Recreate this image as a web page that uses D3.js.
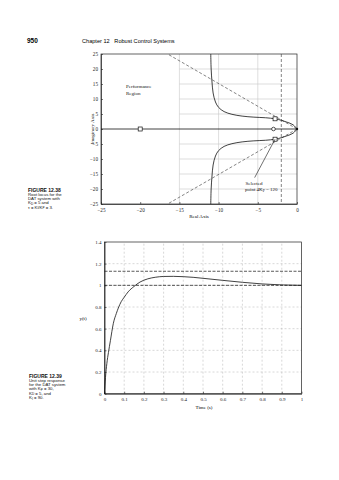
<!DOCTYPE html>
<html><head><meta charset="utf-8">
<script src="https://cdn.jsdelivr.net/npm/d3@7"></script>
<style>body{margin:0;background:#fff}svg{display:block}</style>
</head><body><svg id="c" width="339" height="480"></svg>
<script>
// ---------- data: root locus (Fig 12.38) ----------
const rlXTicks = [-25, -20, -15, -10, -5, 0];
const rlYTicks = [25, 20, 15, 10, 5, 0, -5, -10, -15, -20, -25];
const rlGridX = [-15, -10, -5];
const rlGridY = [20, 15, 10, 5, -5, -10, -15, -20];
// upper complex branch (real, imag), lower is its mirror
const branchRe = [0, -0.5, -1.3, -2.0, -2.8, -4.0, -5.5, -7.0, -8.3, -9.3, -10.0, -10.4, -10.7, -10.85, -10.95, -11.0];
const branchIm = [0, 1.4, 2.3, 2.9, 3.4, 3.75, 3.95, 4.3, 4.9, 5.8, 7.2, 9.0, 12.0, 16.0, 20.0, 25.0];
const realAxisSegment = [-25, 0];
const openLoopPole = [0];
const zeroReal = [-20];
const closedLoopReal = [-3];
const selectedRe = [-2.8, -2.8];
const selectedIm = [3.4, -3.4];
const dampingLineEnd = [-16.5, 25];
const settlingLine = [-2];

// ---------- data: step response (Fig 12.39) ----------
const stepXTicks = [0, 0.1, 0.2, 0.3, 0.4, 0.5, 0.6, 0.7, 0.8, 0.9, 1];
const stepYTicks = [0, 0.2, 0.4, 0.6, 0.8, 1, 1.2, 1.4];
const stepT = [0, 0.005, 0.012, 0.02, 0.03, 0.045, 0.06, 0.07, 0.085, 0.1, 0.12, 0.15, 0.18, 0.22, 0.26, 0.3, 0.35, 0.4, 0.45, 0.5, 0.6, 0.7, 0.8, 0.9, 1.0];
const stepY = [0, 0.15, 0.28, 0.38, 0.49, 0.65, 0.74, 0.79, 0.85, 0.89, 0.94, 0.99, 1.03, 1.06, 1.075, 1.082, 1.083, 1.08, 1.074, 1.065, 1.046, 1.028, 1.013, 1.004, 1.0];
const overshootLevel = [1.13];
const finalLevel = [1.0];

const svg = d3.select("#c");
const serif = "Liberation Serif, Times New Roman, serif";
const sans = "Liberation Sans, Arial, sans-serif";

// ---------- page header ----------
svg.append("text").attr("x", 27).attr("y", 43).attr("font-family", sans).attr("font-weight", "bold")
  .attr("font-size", 6.5).text("950");
svg.append("text").attr("x", 82).attr("y", 43).attr("font-family", sans)
  .attr("font-size", 5.6).attr("xml:space", "preserve").text("Chapter 12   Robust Control Systems");

// ---------- captions ----------
function caption(x, y, lines) {
  const g = svg.append("g").attr("font-family", sans).attr("font-size", 4.3).attr("fill", "#111");
  lines.forEach((ln, i) => {
    const t = g.append("text").attr("x", x).attr("y", y + i * 4.3);
    if (i === 0) t.attr("font-weight", "bold").attr("font-size", 5);
    let shifted = false;
    ln.forEach(part => {
      if (typeof part === "string") {
        const s = t.append("tspan").text(part);
        if (shifted) { s.attr("dy", -0.5); shifted = false; }
      } else {
        t.append("tspan").attr("dy", 0.5).attr("font-size", 3.1).text(part.sub);
        shifted = true;
      }
    });
  });
}
caption(28, 191.5, [["FIGURE 12.38"], ["Root locus for the"], ["DAT system with"], ["K", {sub: "D"}, " = 5 and"], ["\u03C4 = K", {sub: "I"}, "/K", {sub: "P"}, " = 3."]]);
caption(29, 377.5, [["FIGURE 12.39"], ["Unit step response"], ["for the DAT system"], ["with K", {sub: "P"}, " = 30,"], ["K", {sub: "D"}, " = 5, and"], ["K", {sub: "I"}, " = 90."]]);

// ---------- root locus ----------
const rx = d3.scaleLinear().domain([-25, 0]).range([101, 297]);
const ry = d3.scaleLinear().domain([-25, 25]).range([204, 54]);
const rl = svg.append("g");

// light grid
rlGridX.forEach(v => rl.append("line").attr("x1", rx(v)).attr("x2", rx(v)).attr("y1", ry(25)).attr("y2", ry(-25))
  .attr("stroke", "#c8c8c8").attr("stroke-width", 0.6));
rlGridY.forEach(v => rl.append("line").attr("x1", rx(-15)).attr("x2", rx(0)).attr("y1", ry(v)).attr("y2", ry(v))
  .attr("stroke", "#c8c8c8").attr("stroke-width", 0.6));

// frame
rl.append("rect").attr("x", rx(-25)).attr("y", ry(25)).attr("width", rx(0) - rx(-25)).attr("height", ry(-25) - ry(25))
  .attr("fill", "none").attr("stroke", "#222").attr("stroke-width", 0.7);

// axes
const rlLeft = d3.axisLeft(ry).tickValues(rlYTicks).tickSizeInner(-2).tickSizeOuter(0).tickPadding(3)
  .tickFormat(d => d < 0 ? "\u2212" + Math.abs(d) : d);
const rlBottom = d3.axisBottom(rx).tickValues(rlXTicks).tickSizeInner(-2).tickSizeOuter(0).tickPadding(4)
  .tickFormat(d => d < 0 ? "\u2212" + Math.abs(d) : d);
const ga = rl.append("g").attr("transform", `translate(${rx(-25)},0)`).call(rlLeft);
const gb = rl.append("g").attr("transform", `translate(0,${ry(-25)})`).call(rlBottom);
[ga, gb].forEach(g => {
  g.select(".domain").attr("stroke", "#222").attr("stroke-width", 0.7);
  g.selectAll(".tick line").attr("stroke", "#222").attr("stroke-width", 0.6);
  g.selectAll(".tick text").attr("font-family", serif).attr("font-size", 5.2).attr("fill", "#222");
});

// dashed performance lines
rl.append("line").attr("x1", rx(0)).attr("y1", ry(0)).attr("x2", rx(dampingLineEnd[0])).attr("y2", ry(dampingLineEnd[1]))
  .attr("stroke", "#333").attr("stroke-width", 0.6).attr("stroke-dasharray", "3,2");
rl.append("line").attr("x1", rx(0)).attr("y1", ry(0)).attr("x2", rx(dampingLineEnd[0])).attr("y2", ry(-dampingLineEnd[1]))
  .attr("stroke", "#333").attr("stroke-width", 0.6).attr("stroke-dasharray", "3,2");
settlingLine.forEach(v => rl.append("line").attr("x1", rx(v)).attr("x2", rx(v)).attr("y1", ry(25)).attr("y2", ry(-25))
  .attr("stroke", "#333").attr("stroke-width", 0.6).attr("stroke-dasharray", "3,2"));

// real axis locus
rl.append("line").attr("x1", rx(realAxisSegment[0])).attr("x2", rx(realAxisSegment[1])).attr("y1", ry(0)).attr("y2", ry(0))
  .attr("stroke", "#111").attr("stroke-width", 0.8);

// complex branches
const upper = branchRe.map((r, i) => [r, branchIm[i]]);
const lower = branchRe.map((r, i) => [r, -branchIm[i]]);
const locLine = d3.line().x(d => rx(d[0])).y(d => ry(d[1])).curve(d3.curveCatmullRom.alpha(0.5));
[upper, lower].forEach(b => rl.append("path").attr("d", locLine(b)).attr("fill", "none")
  .attr("stroke", "#111").attr("stroke-width", 0.8));

// markers
zeroReal.forEach(v => rl.append("rect").attr("x", rx(v) - 2).attr("y", ry(0) - 2).attr("width", 4).attr("height", 4)
  .attr("fill", "#fff").attr("stroke", "#111").attr("stroke-width", 0.7));
closedLoopReal.forEach(v => rl.append("circle").attr("cx", rx(v)).attr("cy", ry(0)).attr("r", 1.8)
  .attr("fill", "#fff").attr("stroke", "#111").attr("stroke-width", 0.7));
selectedRe.forEach((v, i) => rl.append("rect").attr("x", rx(v) - 2).attr("y", ry(selectedIm[i]) - 2).attr("width", 4).attr("height", 4)
  .attr("fill", "#fff").attr("stroke", "#111").attr("stroke-width", 0.7));
openLoopPole.forEach(v => rl.append("circle").attr("cx", rx(v)).attr("cy", ry(0)).attr("r", 1.2).attr("fill", "#111"));

// annotation
rl.append("line").attr("x1", rx(-5.4)).attr("y1", ry(-16.2)).attr("x2", rx(selectedRe[1])).attr("y2", ry(selectedIm[1]))
  .attr("stroke", "#111").attr("stroke-width", 0.6);
const ann = rl.append("g").attr("font-family", serif).attr("font-size", 5).attr("fill", "#111");
ann.append("text").attr("x", 245.5).attr("y", 185).text("Selected");
const t2 = ann.append("text").attr("x", 245).attr("y", 191.3);
t2.append("tspan").text("point 4K");
t2.append("tspan").attr("dy", 1).attr("font-size", 3.6).text("P");
t2.append("tspan").attr("dy", -1).text(" = 120");
ann.append("text").attr("x", 126).attr("y", 88).text("Performance");
ann.append("text").attr("x", 126).attr("y", 94.5).text("Region");

rl.append("text").attr("x", 199).attr("y", 218).attr("text-anchor", "middle").attr("font-family", serif)
  .attr("font-size", 5).text("Real Axis");
rl.append("text").attr("transform", `translate(93.5,${ry(0)}) rotate(-90)`).attr("text-anchor", "middle")
  .attr("font-family", serif).attr("font-size", 5).text("Imaginary Axis");

// ---------- step response ----------
const sx = d3.scaleLinear().domain([0, 1]).range([104.5, 301.5]);
const sy = d3.scaleLinear().domain([0, 1.4]).range([393.7, 242]);
const st = svg.append("g");

// dotted grid
stepXTicks.slice(1, -1).forEach(v => st.append("line").attr("x1", sx(v)).attr("x2", sx(v)).attr("y1", sy(0)).attr("y2", sy(1.4))
  .attr("stroke", "#b0b0b0").attr("stroke-width", 0.5).attr("stroke-dasharray", "2,2"));
stepYTicks.slice(1, -1).forEach(v => st.append("line").attr("x1", sx(0)).attr("x2", sx(1)).attr("y1", sy(v)).attr("y2", sy(v))
  .attr("stroke", "#b0b0b0").attr("stroke-width", 0.5).attr("stroke-dasharray", "2,2"));

st.append("rect").attr("x", sx(0)).attr("y", sy(1.4)).attr("width", sx(1) - sx(0)).attr("height", sy(0) - sy(1.4))
  .attr("fill", "none").attr("stroke", "#222").attr("stroke-width", 0.7);

const sLeft = d3.axisLeft(sy).tickValues(stepYTicks).tickSizeInner(-2).tickSizeOuter(0).tickPadding(3)
  .tickFormat(d => d === 0 ? "0" : d === 1 ? "1" : d3.format(".1f")(d));
const sBottom = d3.axisBottom(sx).tickValues(stepXTicks).tickSizeInner(-2).tickSizeOuter(0).tickPadding(3.5)
  .tickFormat(d => d === 0 ? "0" : d === 1 ? "1" : d3.format(".1f")(d));
const sa = st.append("g").attr("transform", `translate(${sx(0)},0)`).call(sLeft);
const sb = st.append("g").attr("transform", `translate(0,${sy(0)})`).call(sBottom);
[sa, sb].forEach(g => {
  g.select(".domain").attr("stroke", "#222").attr("stroke-width", 0.8);
  g.selectAll(".tick line").attr("stroke", "#222").attr("stroke-width", 0.6);
  g.selectAll(".tick text").attr("font-family", serif).attr("font-size", 5).attr("fill", "#222");
});

overshootLevel.concat(finalLevel).forEach(v => st.append("line").attr("x1", sx(0)).attr("x2", sx(1)).attr("y1", sy(v)).attr("y2", sy(v))
  .attr("stroke", "#111").attr("stroke-width", 0.7).attr("stroke-dasharray", "3,1.5"));

const stepLine = d3.line().x((d, i) => sx(stepT[i])).y(d => sy(d)).curve(d3.curveMonotoneX);
st.append("path").attr("d", stepLine(stepY)).attr("fill", "none").attr("stroke", "#111").attr("stroke-width", 0.8);

st.append("text").attr("x", 204).attr("y", 409).attr("text-anchor", "middle").attr("font-family", serif)
  .attr("font-size", 5).text("Time (s)");
st.append("text").attr("x", 83).attr("y", 320).attr("text-anchor", "middle").attr("font-family", serif)
  .attr("font-size", 5).text("y(t)");
</script></body></html>
